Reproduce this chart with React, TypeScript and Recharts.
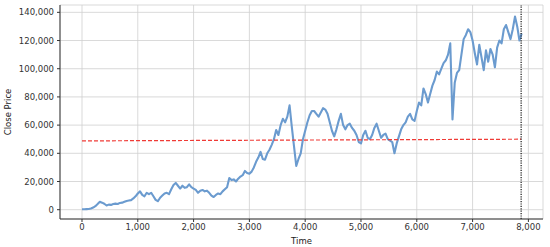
import React from "react";
import {
  LineChart,
  Line,
  XAxis,
  YAxis,
  CartesianGrid,
  ReferenceLine,
} from "recharts";

// close price, thousands, one reading every STEP time units
const STEP = 40;
const closeK: number[] = [
  0.3, 0.3, 0.4, 0.5, 0.8, 1.5, 2.5, 4.0, 5.6, 5.0, 4.2, 3.0, 3.6, 3.4, 4.0, 4.3, 4.0, 4.8, 5.0, 5.6, 6.2, 6.5, 6.8, 8.0, 9.5,
  11.5, 13.0, 10.5, 9.5, 12.0, 11.0, 12.0, 9.5, 7.0, 6.0, 8.5, 10.0, 11.5, 12.0, 11.0, 14.5, 17.5, 19.0, 17.0, 15.0, 17.0, 15.5, 16.0, 18.0, 16.0,
  15.0, 14.0, 12.0, 13.5, 14.0, 13.0, 13.5, 12.0, 10.0, 9.0, 10.5, 11.5, 11.0, 13.0, 14.5, 16.0, 22.5, 21.0, 21.5, 20.0, 22.0, 23.5, 24.5, 27.5, 26.0,
  25.5, 27.0, 30.0, 34.0, 37.0, 41.0, 36.0, 35.5, 40.0, 42.5, 46.0, 50.0, 56.5, 53.0, 60.0, 64.5, 62.0, 66.0, 74.0, 59.0, 45.0, 31.0, 36.0, 40.0, 50.0,
  56, 62, 67, 70, 70, 68, 66, 69, 72, 71, 68, 62, 56, 52, 57, 63, 68, 60, 57, 60, 61, 58, 56, 53, 48,
  47, 53, 56, 51, 50, 53, 58, 61, 56, 51, 53, 54, 50, 49, 48, 40, 47, 52, 57, 60, 62, 66, 68, 64, 63,
  70, 76, 74, 86, 82, 76, 82, 88, 92, 98, 96, 100, 104, 106, 110, 118, 64, 90, 97, 99, 110, 121, 124, 128, 126,
  120, 111, 103, 117, 108, 99, 113, 105, 114, 110, 101, 115, 120, 118, 128, 131, 126, 121, 128, 137, 130, 120, 125,
];

// red dashed trend: start and end
const trendTime = [0, 7870];
const trendValue = [48800, 50000];

const cutoffTime = 7870;

const xTicks = [0, 1000, 2000, 3000, 4000, 5000, 6000, 7000, 8000];
const yTicks = [0, 20000, 40000, 60000, 80000, 100000, 120000, 140000];

const series = closeK.map((v, i) => ({ t: i * STEP, v: v * 1000 }));
const trend = trendTime.map((t, i) => ({ t, v: trendValue[i] }));

const fmt = (v: number) => v.toLocaleString("en-US");

const font = "DejaVu Sans, sans-serif";
const tickStyle = { fontSize: 8.5, fill: "#333", fontFamily: font };

export default function App() {
  return (
    <div style={{ position: "absolute", left: 0, top: 0, width: 550, height: 247, background: "#fff" }}>
      <LineChart width={550} height={247} margin={{ top: 5, right: 7, bottom: 0, left: 0 }}>
        <CartesianGrid stroke="#cfcfcf" strokeWidth={0.8} />
        <XAxis
          type="number"
          dataKey="t"
          domain={[-394, 8262]}
          ticks={xTicks}
          tickFormatter={fmt}
          allowDataOverflow
          height={28}
          tickSize={3}
          tickMargin={2}
          stroke="#333"
          tick={tickStyle}
          label={{ value: "Time", position: "insideBottom", offset: 3, style: { fontSize: 8.5, fill: "#222", fontFamily: font } }}
        />
        <XAxis xAxisId="top" orientation="top" type="number" domain={[0, 1]} height={0} tick={false} tickLine={false} stroke="#555" />
        <YAxis
          type="number"
          domain={[-6600, 145200]}
          ticks={yTicks}
          tickFormatter={fmt}
          allowDataOverflow
          width={60}
          tickSize={3}
          tickMargin={3}
          stroke="#333"
          tick={tickStyle}
          label={{
            value: "Close Price",
            angle: -90,
            position: "insideLeft",
            offset: 8,
            style: { textAnchor: "middle", fontSize: 8.5, fill: "#222", fontFamily: font },
          }}
        />
        <YAxis yAxisId="right" orientation="right" type="number" domain={[0, 1]} width={0} tick={false} tickLine={false} stroke="#555" />
        <Line
          data={series}
          dataKey="v"
          type="linear"
          stroke="#6b9bcf"
          strokeWidth={2.1}
          strokeLinejoin="round"
          dot={false}
          isAnimationActive={false}
        />
        <Line
          data={trend}
          dataKey="v"
          type="linear"
          stroke="#ef3b36"
          strokeWidth={1.2}
          strokeDasharray="4 2"
          dot={false}
          isAnimationActive={false}
        />
        <ReferenceLine x={cutoffTime} stroke="#000" strokeWidth={1.1} strokeDasharray="1.2 1.2" />
      </LineChart>
    </div>
  );
}
